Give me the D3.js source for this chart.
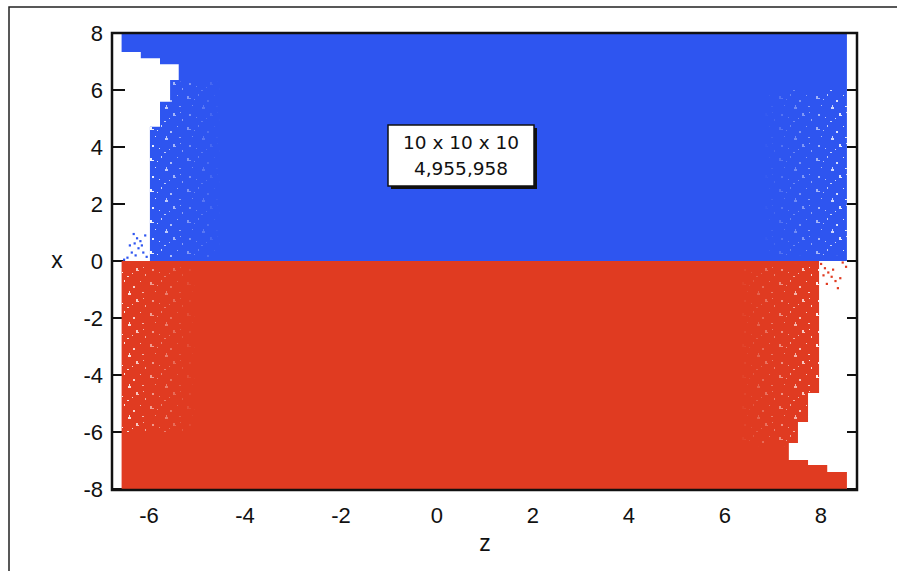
<!DOCTYPE html>
<html>
<head>
<meta charset="utf-8">
<script src="https://cdn.jsdelivr.net/npm/d3@7"></script>
<style>
  html, body { margin: 0; padding: 0; background: #fff; }
  svg { display: block; }
  .tick-label { font-family: "Liberation Sans", Arial, sans-serif; font-size: 22px; fill: #111; }
  .axis-title { font-family: "Liberation Sans", Arial, sans-serif; font-size: 23px; fill: #111; }
  .note { font-family: "DejaVu Sans", Verdana, sans-serif; font-size: 18.5px; fill: #111; }
</style>
</head>
<body>
<div id="chart"></div>
<script>
// tick values
const zTicks = [-6, -4, -2, 0, 2, 4, 6, 8];
const xTicks = [-8, -6, -4, -2, 0, 2, 4, 6, 8];

// outline of the blue cloud (x > 0), as [z, x]
const blueOutline = [
  [-6.57, 8], [-6.57, 7.33], [-6.17, 7.33], [-6.17, 7.11], [-5.77, 7.11],
  [-5.77, 6.9], [-5.38, 6.9], [-5.38, 6.35], [-5.56, 6.35], [-5.56, 5.59],
  [-5.77, 5.59], [-5.77, 4.71], [-5.98, 4.71], [-5.98, 0], [8.54, 0], [8.54, 8]
];

// outline of the red cloud (x < 0), as [z, x]
const redOutline = [
  [-6.57, 0], [7.96, 0], [7.96, -4.63], [7.73, -4.63], [7.73, -5.65],
  [7.52, -5.65], [7.52, -6.39], [7.33, -6.39], [7.33, -6.98], [7.73, -6.98],
  [7.73, -7.16], [8.13, -7.16], [8.13, -7.4], [8.54, -7.4], [8.54, -8], [-6.57, -8]
];

// stray points outside the main clouds
const blueStray = [
  [-6.52, 0.05], [-6.45, 0.12], [-6.32, 0.95], [-6.25, 0.8], [-6.3, 0.62],
  [-6.18, 0.7], [-6.22, 0.45], [-6.12, 0.3], [-6.36, 0.3], [-6.05, 0.15],
  [-6.15, 0.55], [-6.28, 0.2], [-6.08, 0.9], [-6.4, 0.55]
];
const redStray = [
  [8.0, -0.1], [8.08, -0.25], [8.15, -0.4], [8.22, -0.55], [8.3, -0.7],
  [8.12, -0.8], [8.35, -0.95], [8.05, -0.5], [8.45, -0.05], [8.52, -0.2],
  [8.25, -0.3], [8.4, -0.6]
];

// sparse zones along the cloud edges: [z0, z1, x0, x1, dense side]
const sparseZones = [
  [-5.98, -4.5, 0.1, 6.3, "left"],
  [6.8, 8.54, 0.2, 6.0, "right"],
  [-6.57, -5.0, -0.1, -6.0, "left"],
  [6.3, 7.96, -0.1, -6.5, "right"]
];

const noteLines = ["10 x 10 x 10", "4,955,958"];

const W = 897, H = 571;
const plotL = 112, plotR = 857, plotT = 33, plotB = 490;
const blue = "#2e55f0", red = "#e03b21";

const svg = d3.select("#chart").append("svg")
  .attr("width", W).attr("height", H);

const zScale = d3.scaleLinear().domain([-6.77, 8.75]).range([plotL, plotR]);
const xScale = d3.scaleLinear().domain([-8, 8]).range([489, plotT]);

// outer frame (only top and left edges fall inside the picture)
svg.append("rect")
  .attr("x", 9).attr("y", 7).attr("width", 900).attr("height", 600)
  .attr("fill", "none").attr("stroke", "#222").attr("stroke-width", 1.5);

// ticks, drawn under the data
const tickG = svg.append("g").attr("stroke", "#111").attr("stroke-width", 2);
tickG.append("g").selectAll("line").data(xTicks).join("line")
  .attr("x1", plotL).attr("x2", plotL + 13)
  .attr("y1", d => xScale(d)).attr("y2", d => xScale(d));
tickG.append("g").selectAll("line").data(xTicks).join("line")
  .attr("x1", plotR).attr("x2", plotR - 10)
  .attr("y1", d => xScale(d)).attr("y2", d => xScale(d));
tickG.append("g").selectAll("line").data(zTicks).join("line")
  .attr("x1", d => zScale(d)).attr("x2", d => zScale(d))
  .attr("y1", plotB).attr("y2", plotB - 8);
tickG.append("g").selectAll("line").data(zTicks).join("line")
  .attr("x1", d => zScale(d)).attr("x2", d => zScale(d))
  .attr("y1", plotT).attr("y2", plotT + 8);

// speckle pattern for sparse edges
const defs = svg.append("defs");
const pat = defs.append("pattern").attr("id", "speck")
  .attr("patternUnits", "userSpaceOnUse").attr("width", 37).attr("height", 31);
[[2, 3, 2, 3], [3, 5, 3, 1], [13, 1, 1, 2], [22, 7, 2, 2], [29, 2, 1, 1],
 [7, 12, 1, 1], [17, 14, 3, 2], [18, 12, 1, 2], [31, 13, 2, 1], [4, 21, 2, 2],
 [11, 24, 1, 1], [25, 20, 2, 3], [26, 22, 2, 1], [34, 26, 1, 2], [16, 28, 2, 1],
 [9, 6, 1, 1], [32, 19, 1, 1], [21, 25, 1, 1]].forEach(r => {
  pat.append("rect").attr("x", r[0]).attr("y", r[1])
    .attr("width", r[2]).attr("height", r[3]).attr("fill", "#fff");
});
["left", "right"].forEach(side => {
  const g = defs.append("linearGradient").attr("id", "fade-" + side)
    .attr("x1", side === "left" ? 0 : 1).attr("x2", side === "left" ? 1 : 0)
    .attr("y1", 0).attr("y2", 0);
  g.append("stop").attr("offset", 0).attr("stop-color", "#fff").attr("stop-opacity", 0.95);
  g.append("stop").attr("offset", 0.4).attr("stop-color", "#fff").attr("stop-opacity", 0.5);
  g.append("stop").attr("offset", 1).attr("stop-color", "#fff").attr("stop-opacity", 0);
  const m = defs.append("mask").attr("id", "mask-" + side)
    .attr("maskContentUnits", "objectBoundingBox");
  m.append("rect").attr("width", 1).attr("height", 1).attr("fill", `url(#fade-${side})`);
});

const line = d3.line().x(d => zScale(d[0])).y(d => xScale(d[1]));

svg.append("path").datum(redOutline)
  .attr("d", d => line(d) + "Z").attr("fill", red);
svg.append("path").datum(blueOutline)
  .attr("d", d => line(d) + "Z").attr("fill", blue);

svg.append("g").selectAll("rect").data(sparseZones).join("rect")
  .attr("x", d => zScale(d[0]))
  .attr("width", d => zScale(d[1]) - zScale(d[0]))
  .attr("y", d => xScale(Math.max(d[2], d[3])))
  .attr("height", d => Math.abs(xScale(d[2]) - xScale(d[3])))
  .attr("fill", "url(#speck)")
  .attr("mask", d => `url(#mask-${d[4]})`);

svg.append("g").selectAll("rect").data(blueStray).join("rect")
  .attr("x", d => zScale(d[0]) - 1).attr("y", d => xScale(d[1]) - 1)
  .attr("width", 2.2).attr("height", 2.2).attr("fill", blue);
svg.append("g").selectAll("rect").data(redStray).join("rect")
  .attr("x", d => zScale(d[0]) - 1).attr("y", d => xScale(d[1]) - 1)
  .attr("width", 2.2).attr("height", 2.2).attr("fill", red);

// axis frame on top
svg.append("rect")
  .attr("x", plotL).attr("y", plotT)
  .attr("width", plotR - plotL).attr("height", plotB - plotT)
  .attr("fill", "none").attr("stroke", "#111").attr("stroke-width", 2.5);

// tick labels
svg.append("g").selectAll("text").data(xTicks).join("text")
  .attr("class", "tick-label")
  .attr("x", plotL - 9).attr("y", d => xScale(d))
  .attr("dy", "0.36em").attr("text-anchor", "end")
  .text(d => d);
svg.append("g").selectAll("text").data(zTicks).join("text")
  .attr("class", "tick-label")
  .attr("x", d => zScale(d)).attr("y", 523)
  .attr("text-anchor", "middle")
  .text(d => d);

svg.append("text").attr("class", "axis-title")
  .attr("x", 485).attr("y", 551)
  .attr("text-anchor", "middle").text("z");
svg.append("text").attr("class", "axis-title")
  .attr("x", 57).attr("y", xScale(0)).attr("dy", "0.3em")
  .attr("text-anchor", "middle").text("x");

// note box
const nb = { x: 388, y: 125, w: 146, h: 61 };
svg.append("rect")
  .attr("x", nb.x + 3).attr("y", nb.y + 3).attr("width", nb.w).attr("height", nb.h)
  .attr("fill", "#111");
svg.append("rect")
  .attr("x", nb.x).attr("y", nb.y).attr("width", nb.w).attr("height", nb.h)
  .attr("fill", "#fff").attr("stroke", "#111").attr("stroke-width", 1.5);
svg.append("g").selectAll("text").data(noteLines).join("text")
  .attr("class", "note")
  .attr("x", nb.x + nb.w / 2).attr("y", (d, i) => 149 + i * 26)
  .attr("text-anchor", "middle")
  .text(d => d);
</script>
</body>
</html>
